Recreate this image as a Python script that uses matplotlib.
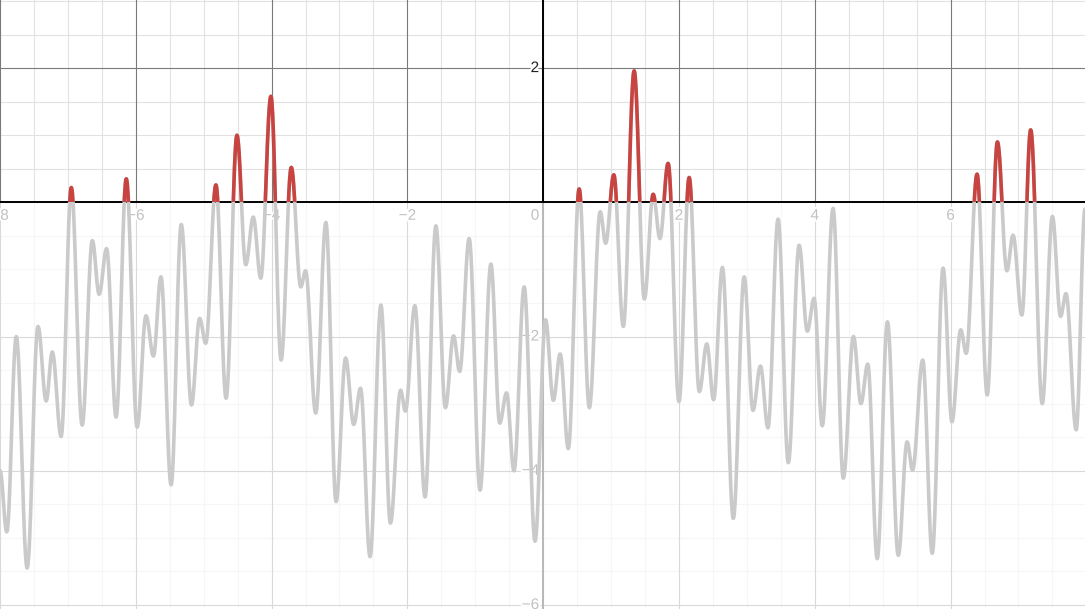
import numpy as np
import matplotlib
matplotlib.use("Agg")
import matplotlib.pyplot as plt
from matplotlib.patches import Rectangle
import matplotlib.patheffects as pe

# local extrema of the curve (x, y)
peak_x = [-8.00, -7.90, -7.76, -7.60, -7.44, -7.32, -7.23, -7.10, -6.95, -6.79,
          -6.64, -6.54, -6.43, -6.29, -6.14, -5.98, -5.85, -5.74, -5.63, -5.48,
          -5.33, -5.18, -5.06, -4.97, -4.82, -4.67, -4.51, -4.38, -4.27, -4.16,
          -4.01, -3.86, -3.71, -3.57, -3.50, -3.35, -3.20, -3.05, -2.91, -2.79,
          -2.69, -2.55, -2.39, -2.25, -2.10, -2.03, -1.89, -1.74, -1.58, -1.44,
          -1.32, -1.23, -1.09, -0.93, -0.77, -0.64, -0.54, -0.43, -0.28, -0.12,
          0.035, 0.15, 0.25, 0.37, 0.53, 0.68, 0.84, 0.92, 1.04, 1.18,
          1.34, 1.49, 1.62, 1.72, 1.84, 2.00, 2.15, 2.30, 2.41, 2.51,
          2.64, 2.80, 2.96, 3.09, 3.20, 3.31, 3.46, 3.61, 3.77, 3.89,
          3.99, 4.11, 4.27, 4.42, 4.57, 4.68, 4.78, 4.92, 5.07, 5.23,
          5.36, 5.44, 5.59, 5.73, 5.89, 6.02, 6.15, 6.23, 6.39, 6.54,
          6.69, 6.83, 6.92, 7.05, 7.18, 7.35, 7.50, 7.62, 7.70, 7.85, 7.98]
peak_y = [-4.00, -4.91, -2.00, -5.45, -1.85, -2.96, -2.23, -3.49, 0.22, -3.32,
          -0.57, -1.37, -0.69, -3.20, 0.35, -3.35, -1.69, -2.29, -1.11, -4.21,
          -0.33, -3.02, -1.73, -2.10, 0.26, -2.92, 1.00, -0.93, -0.22, -1.13,
          1.58, -2.35, 0.52, -1.26, -1.02, -3.14, -0.30, -4.46, -2.32, -3.31,
          -2.77, -5.28, -1.53, -4.78, -2.80, -3.11, -1.54, -4.39, -0.35, -3.06,
          -1.99, -2.52, -0.54, -4.29, -0.92, -3.29, -2.84, -4.00, -1.26, -5.05,
          -1.75, -2.95, -2.26, -3.67, 0.20, -3.06, -0.14, -0.61, 0.41, -1.85,
          1.96, -1.44, 0.12, -0.54, 0.58, -2.97, 0.37, -2.82, -2.11, -2.94,
          -0.97, -4.71, -1.11, -3.10, -2.44, -3.36, -0.25, -3.88, -0.64, -1.92,
          -1.43, -3.33, -0.09, -4.11, -2.00, -3.00, -2.41, -5.31, -1.78, -5.26,
          -3.57, -3.99, -2.35, -5.23, -0.98, -3.27, -1.90, -2.25, 0.42, -2.87,
          0.90, -1.02, -0.49, -1.68, 1.08, -3.00, -0.21, -1.70, -1.36, -3.39, -0.10]

x_labels = [-8, -6, -4, -2, 2, 4, 6]
y_labels = [2, -2, -4, -6]

fig = plt.figure(figsize=(10.85, 6.09), dpi=100)
ax = fig.add_axes([0, 0, 1, 1])
ax.set_xlim(-8.0, 7.98)
ax.set_ylim(-6.06, 3.015)
ax.set_axis_off()

# grid
for v in np.arange(-8, 8.01, 0.5):
    major = v % 2 == 0
    ax.axvline(v, color="#7a7a7a" if major else "#e2e2e2", lw=0.8, zorder=1 if major else 0)
for v in np.arange(-6, 3.01, 0.5):
    major = v % 2 == 0
    ax.axhline(v, color="#7a7a7a" if major else "#e2e2e2", lw=0.8, zorder=1 if major else 0)

ax.axvline(0, color="black", lw=1.4, zorder=2)

halo = [pe.withStroke(linewidth=3, foreground="white")]
for v in x_labels:
    ax.text(v, -0.2, "−" + str(-v) if v < 0 else str(v), ha="center", va="center",
            fontsize=11, family="Liberation Sans", color="#222222", zorder=3, path_effects=halo)
ax.text(-0.12, -0.2, "0", ha="center", va="center", fontsize=11,
        family="Liberation Sans", color="#222222", zorder=3, path_effects=halo)
for v in y_labels:
    ax.text(-0.06, v, "−" + str(-v) if v < 0 else str(v), ha="right", va="center",
            fontsize=11, family="Liberation Sans", color="#222222", zorder=3, path_effects=halo)

# faded lower half
ax.add_patch(Rectangle((-9, -7), 18, 7, facecolor="white", alpha=0.72, lw=0, zorder=4))
ax.axhline(0, color="black", lw=1.4, zorder=5)

# smooth curve through the read extrema (half-cosine between neighbours)
xs, ys = [], []
for i in range(len(peak_x) - 1):
    t = np.linspace(0, 1, 30, endpoint=False)
    s = (1 - np.cos(np.pi * t)) / 2
    xs.append(peak_x[i] + (peak_x[i + 1] - peak_x[i]) * t)
    ys.append(peak_y[i] + (peak_y[i + 1] - peak_y[i]) * s)
xs.append([peak_x[-1]])
ys.append([peak_y[-1]])
xs = np.concatenate(xs)
ys = np.concatenate(ys)

ax.plot(xs, ys, color="#cacaca", lw=2.6, zorder=6, solid_capstyle="round")
red, = ax.plot(xs, ys, color="#c74440", lw=2.6, zorder=7, solid_capstyle="round")
clip = Rectangle((-9, 0), 18, 5, transform=ax.transData)
red.set_clip_path(clip)

fig.savefig("out.png", dpi=100)
